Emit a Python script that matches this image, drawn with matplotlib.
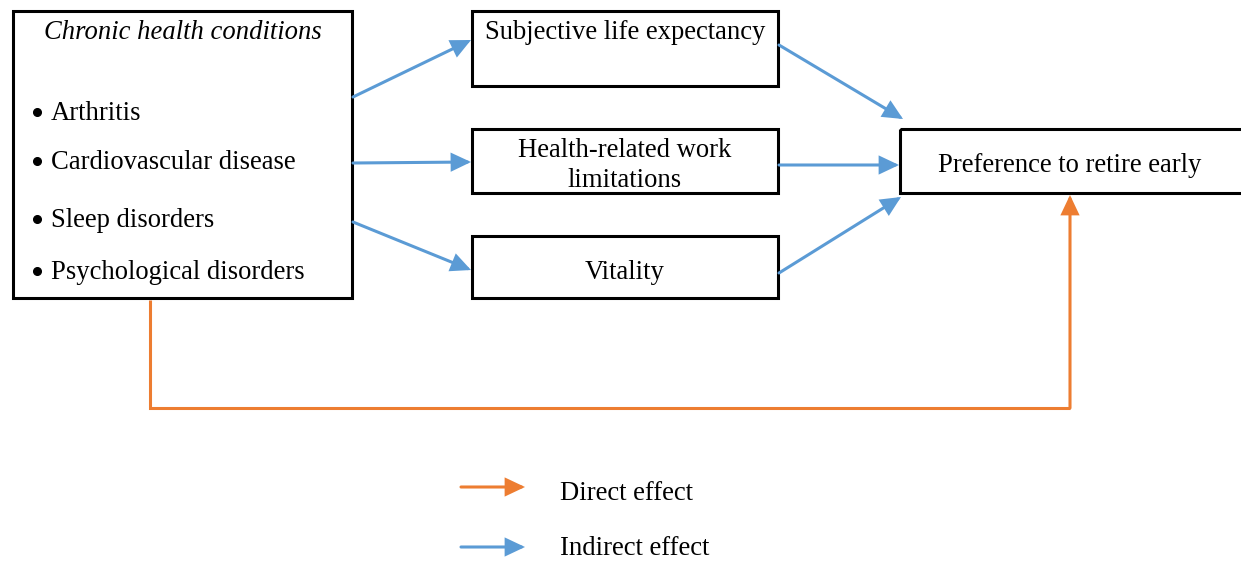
import matplotlib
matplotlib.use("Agg")
import matplotlib.pyplot as plt
from matplotlib.patches import Rectangle, FancyArrowPatch

# ---- content ----
left_title = "Chronic health conditions"
conditions = ["Arthritis", "Cardiovascular disease", "Sleep disorders", "Psychological disorders"]
condition_y = [120, 169, 227, 279]
mediators = ["Subjective life expectancy", "Health-related work", "limitations", "Vitality"]
mediator_y = [39, 157, 187, 279]
outcome = "Preference to retire early"
legend_labels = ["Direct effect", "Indirect effect"]

BLUE = "#5B9BD5"
ORANGE = "#ED7D31"
FONT = "Liberation Serif"
FS = 19.2

fig = plt.figure(figsize=(12.41, 5.62), dpi=100)
ax = fig.add_axes([0, 0, 1, 1])
ax.set_xlim(0, 1241)
ax.set_ylim(562, 0)
ax.axis("off")

def box(x0, y0, x1, y1):
    ax.add_patch(Rectangle((x0, y0), x1 - x0, y1 - y0, fill=False,
                           edgecolor="black", linewidth=2.2, joinstyle="miter"))

def arrow(p0, p1, color):
    ax.add_patch(FancyArrowPatch(p0, p1, arrowstyle="-|>,head_length=11,head_width=5.2",
                                 mutation_scale=1, color=color, linewidth=2.2,
                                 shrinkA=0, shrinkB=0, joinstyle="miter"))

def txt(x, y, s, ha="center", **kw):
    ax.text(x, y, s, fontsize=FS, family=FONT, ha=ha, va="baseline", **kw)

# boxes
box(13, 11, 352, 298)
med_boxes = [(472, 11, 778, 86), (472, 129, 778, 193), (472, 236, 778, 298)]
for b in med_boxes:
    box(*b)
box(900, 129, 1243, 193)

# left box text
txt(183, 39, left_title, style="italic")
for lab, y in zip(conditions, condition_y):
    ax.plot([37], [y - 8], marker="o", markersize=5.5, color="black")
    txt(51, y, lab, ha="left")

# mediator text
for lab, y in zip(mediators, mediator_y):
    txt(625, y, lab)
txt(1070, 172, outcome)

# indirect arrows
arrow((353, 97), (471, 40), BLUE)
arrow((353, 163), (471, 162), BLUE)
arrow((353, 222), (471, 270), BLUE)
arrow((779, 45), (903, 119), BLUE)
arrow((779, 165), (899, 165), BLUE)
arrow((779, 273), (901, 197), BLUE)

# direct path
ax.plot([150, 150, 1070], [300, 408, 408], color=ORANGE, linewidth=2.2,
        solid_joinstyle="miter", solid_capstyle="butt")
arrow((1070, 408), (1070, 195), ORANGE)

# legend
arrow((461, 487), (525, 487), ORANGE)
arrow((461, 547), (525, 547), BLUE)
txt(560, 500, legend_labels[0], ha="left")
txt(560, 555, legend_labels[1], ha="left")

fig.savefig("out.png", dpi=100, facecolor="white")
